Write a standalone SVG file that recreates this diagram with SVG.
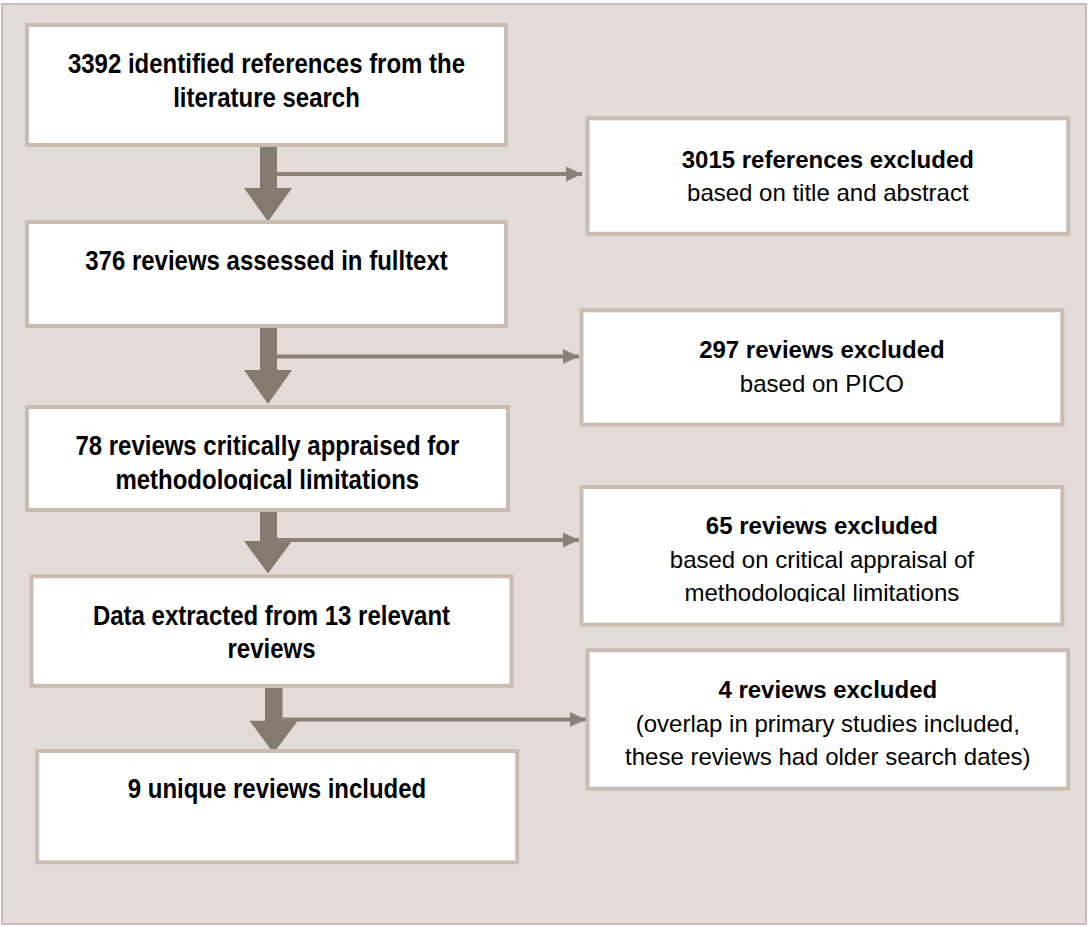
<svg xmlns="http://www.w3.org/2000/svg" width="1088" height="926" viewBox="0 0 1088 926">
<style>
.panel{fill:#e3dbd8;stroke:#c9bfb8;stroke-width:2}
.box{fill:#ffffff;stroke:#c8bcb3;stroke-width:4}
.lt{font-family:"Liberation Sans",Arial,sans-serif;font-weight:bold;font-size:27.5px;fill:#000;text-anchor:middle}
.rt{font-family:"Liberation Sans",Arial,sans-serif;font-size:24px;fill:#000;text-anchor:middle}
.rb{font-weight:bold}
.big{fill:#837b6f}
.thin{stroke:#8a8278;stroke-width:4;fill:none}
</style>
<defs>
<marker id="ah" markerUnits="userSpaceOnUse" markerWidth="16" markerHeight="15" refX="16" refY="7.5" orient="auto">
<path d="M0,0 L16,7.5 L0,15 Z" fill="#8a8278"/>
</marker>
<clipPath id="clip3"><rect x="0" y="400" width="560" height="90"/></clipPath>
<clipPath id="clipR3"><rect x="560" y="480" width="520" height="122"/></clipPath>
</defs>
<rect class="panel" x="2" y="4" width="1084" height="920"/>
<g id="connectors">
<polygon class="big" points="260,147 277,147 277,188 292,188 268,221.5 244,188 260,188"/>
<polygon class="big" points="260,328 277,328 277,370 292,370 268,404 244,370 260,370"/>
<polygon class="big" points="260,511.5 277,511.5 277,541 292,541 268,573.5 244,541 260,541"/>
<polygon class="big" points="265,688 282.5,688 282.5,720.7 297.7,720.7 273.6,753.3 249.5,720.7 265,720.7"/>
<line class="thin" x1="277" y1="174" x2="582" y2="174" marker-end="url(#ah)"/>
<line class="thin" x1="277" y1="356.5" x2="579" y2="356.5" marker-end="url(#ah)"/>
<line class="thin" x1="277" y1="540" x2="579" y2="540" marker-end="url(#ah)"/>
<line class="thin" x1="282.5" y1="719.5" x2="586" y2="719.5" marker-end="url(#ah)"/>
</g>
<g id="n1">
<rect class="box" x="27" y="25" width="479" height="120"/>
<g transform="translate(266.5 0) scale(0.872 1)">
<text class="lt" x="0" y="73.3">3392 identified references from the</text>
<text class="lt" x="0" y="107.3">literature search</text>
</g>
</g>
<g id="n2">
<rect class="box" x="27" y="222" width="479" height="104"/>
<g transform="translate(266.5 0) scale(0.872 1)">
<text class="lt" x="0" y="270">376 reviews assessed in fulltext</text>
</g>
</g>
<g id="n3">
<rect class="box" x="27" y="407" width="481" height="103"/>
<g clip-path="url(#clip3)">
<g transform="translate(267.3 0) scale(0.872 1)">
<text class="lt" x="0" y="455">78 reviews critically appraised for</text>
<text class="lt" x="0" y="489">methodological limitations</text>
</g>
</g>
</g>
<g id="n4">
<rect class="box" x="31.5" y="576.3" width="480" height="109.5"/>
<g transform="translate(271.5 0) scale(0.872 1)">
<text class="lt" x="0" y="625">Data extracted from 13 relevant</text>
<text class="lt" x="0" y="658.5">reviews</text>
</g>
</g>
<g id="n5">
<rect class="box" x="37.2" y="751" width="480" height="111.3"/>
<g transform="translate(277 0) scale(0.872 1)">
<text class="lt" x="0" y="798.3">9 unique reviews included</text>
</g>
</g>
<g id="r1">
<rect class="box" x="587.5" y="118.3" width="480.7" height="115.5"/>
<text class="rt rb" x="827.8" y="167.5">3015 references excluded</text>
<text class="rt" x="827.8" y="200.8">based on title and abstract</text>
</g>
<g id="r2">
<rect class="box" x="581.5" y="310.3" width="480.8" height="114.4"/>
<text class="rt rb" x="821.9" y="358.3">297 reviews excluded</text>
<text class="rt" x="821.9" y="391.7">based on PICO</text>
</g>
<g id="r3">
<rect class="box" x="581.5" y="487" width="480.8" height="137.7"/>
<text class="rt rb" x="821.9" y="534.3">65 reviews excluded</text>
<text class="rt" x="821.9" y="567.7">based on critical appraisal of</text>
<text class="rt" x="821.9" y="601" clip-path="url(#clipR3)">methodological limitations</text>
</g>
<g id="r4">
<rect class="box" x="587.5" y="650.3" width="480.7" height="138.4"/>
<text class="rt rb" x="827.8" y="698.3">4 reviews excluded</text>
<text class="rt" x="827.8" y="731.7">(overlap in primary studies included,</text>
<text class="rt" x="827.8" y="765">these reviews had older search dates)</text>
</g>
</svg>
